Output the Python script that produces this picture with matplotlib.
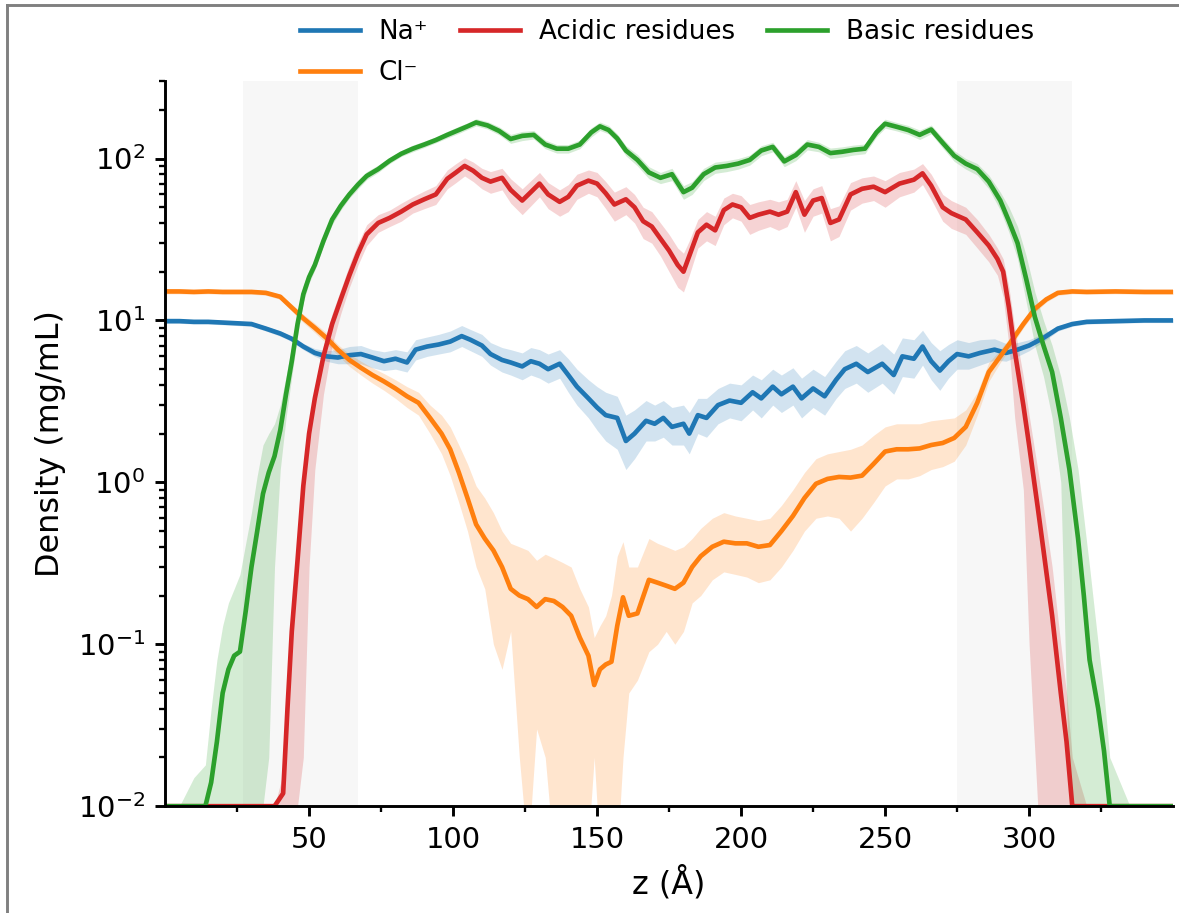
"""Density profiles along z for ions and charged residues."""
import numpy as np
from matplotlib import pyplot as plt

# Na+ profile (mg/mL) with band
z_na = [0, 5, 10, 15, 20, 25, 30, 35, 40,
        44, 48, 52, 56, 60, 64, 68, 72, 76, 80,
        84, 87, 91, 95, 99, 103, 106, 110, 113, 117,
        120, 124, 127, 130, 133, 137, 140, 143, 147, 150,
        153, 157, 160, 163, 167, 170, 173, 176, 180, 182,
        185, 188, 192, 196, 200, 204, 207, 211, 214, 218,
        221, 225, 229, 233, 236, 240, 244, 249, 253, 256,
        260, 263, 266, 269, 272, 275, 279, 283, 288, 292,
        296, 300, 305, 310, 315, 320, 330, 340, 350]
na = [9.9, 9.9, 9.8, 9.8, 9.7, 9.6, 9.5, 8.9, 8.3,
      7.7, 6.9, 6.3, 6.0, 5.9, 6.1, 6.2, 5.9, 5.6, 5.8,
      5.5, 6.6, 6.9, 7.1, 7.4, 8.0, 7.6, 7.0, 6.2, 5.7,
      5.5, 5.2, 5.6, 5.4, 5.0, 5.4, 4.6, 3.9, 3.3, 2.9,
      2.6, 2.5, 1.8, 2.0, 2.4, 2.3, 2.5, 2.2, 2.3, 2.0,
      2.6, 2.5, 3.0, 3.2, 3.1, 3.6, 3.3, 3.9, 3.5, 3.9,
      3.3, 3.8, 3.4, 4.3, 5.0, 5.4, 4.8, 5.4, 4.6, 6.0,
      5.8, 6.9, 5.6, 4.9, 5.6, 6.2, 6.0, 6.3, 6.6, 6.3,
      6.6, 7.0, 7.8, 8.9, 9.5, 9.8, 9.9, 10.0, 10.0]
na_lo = [9.6, 9.6, 9.5, 9.5, 9.4, 9.3, 9.2, 8.6, 8.0,
         7.4, 6.6, 6.0, 5.6, 5.4, 5.4, 5.4, 5.1, 4.9, 5.0,
         4.8, 5.7, 6.0, 6.2, 6.4, 6.9, 6.5, 6.0, 5.3, 4.8,
         4.6, 4.3, 4.6, 4.4, 4.1, 4.4, 3.6, 3.0, 2.5, 2.1,
         1.8, 1.6, 1.2, 1.4, 1.8, 1.8, 1.9, 1.7, 1.7, 1.5,
         2.0, 1.9, 2.3, 2.5, 2.4, 2.8, 2.5, 3.0, 2.7, 3.0,
         2.5, 2.9, 2.6, 3.3, 3.8, 4.1, 3.6, 4.1, 3.5, 4.5,
         4.4, 5.3, 4.3, 3.7, 4.4, 5.0, 5.0, 5.3, 5.7, 5.6,
         6.0, 6.5, 7.4, 8.6, 9.2, 9.5, 9.6, 9.7, 9.7]
na_hi = [10.2, 10.2, 10.1, 10.1, 10.0, 9.9, 9.8, 9.2, 8.6,
         8.0, 7.2, 6.7, 6.5, 6.6, 6.9, 7.0, 6.6, 6.4, 6.6,
         6.4, 7.6, 7.9, 8.2, 8.6, 9.3, 8.8, 8.2, 7.3, 6.8,
         6.6, 6.3, 6.8, 6.6, 6.2, 6.6, 5.8, 5.0, 4.3, 3.9,
         3.6, 3.4, 2.6, 2.8, 3.2, 3.0, 3.2, 2.9, 3.0, 2.7,
         3.3, 3.3, 3.8, 4.1, 4.0, 4.6, 4.3, 5.0, 4.6, 5.1,
         4.4, 5.0, 4.5, 5.6, 6.5, 7.0, 6.3, 7.2, 6.2, 7.8,
         7.6, 8.7, 7.3, 6.5, 7.1, 7.6, 7.3, 7.6, 7.7, 7.2,
         7.3, 7.6, 8.3, 9.3, 9.8, 10.1, 10.2, 10.3, 10.3]

# Cl- profile
z_cl = [0, 5, 10, 15, 20, 25, 30, 35, 40, 44,
        48, 52, 56, 60, 64, 68, 72, 76, 80, 84,
        88, 92, 96, 99, 102, 105, 108, 111, 114, 117,
        120, 123, 126, 129, 132, 135, 138, 141, 144, 147,
        149, 151, 153, 155, 157, 159, 161, 164, 168, 171,
        174, 177, 180, 183, 186, 190, 194, 198, 202, 206,
        210, 214, 218, 222, 226, 230, 234, 238, 242, 246,
        250, 254, 258, 262, 266, 270, 274, 278, 282, 286,
        290, 294, 298, 302, 306, 310, 315, 320, 330, 340,
        350]
cl = [15.1, 15.1, 15.0, 15.1, 15.0, 15.0, 15.0, 14.8, 14.0, 12.0,
      10.3, 9.0, 7.8, 6.6, 5.7, 5.1, 4.6, 4.2, 3.8, 3.4,
      3.1, 2.5, 2.0, 1.6, 1.15, 0.8, 0.55, 0.45, 0.38, 0.30,
      0.22, 0.20, 0.19, 0.17, 0.19, 0.185, 0.17, 0.15, 0.11, 0.085,
      0.056, 0.07, 0.075, 0.078, 0.13, 0.195, 0.15, 0.155, 0.25, 0.24,
      0.23, 0.22, 0.24, 0.30, 0.35, 0.40, 0.43, 0.42, 0.42, 0.40,
      0.41, 0.50, 0.62, 0.80, 0.98, 1.05, 1.08, 1.07, 1.10, 1.30,
      1.55, 1.60, 1.60, 1.62, 1.70, 1.75, 1.88, 2.2, 3.1, 4.8,
      6.0, 7.5, 9.5, 11.8, 13.5, 14.8, 15.1, 15.0, 15.1, 15.0,
      15.0]
cl_lo = [14.6, 14.6, 14.5, 14.6, 14.5, 14.5, 14.5, 14.3, 13.5, 11.4,
         9.7, 8.4, 7.2, 6.1, 5.2, 4.6, 4.1, 3.7, 3.3, 2.9,
         2.6, 2.0, 1.5, 1.1, 0.75, 0.5, 0.3, 0.22, 0.1, 0.07,
         0.12, 0.02, 0.005, 0.03, 0.02, 0.005, 0.005, 0.005, 0.005, 0.006,
         0.02, 0.005, 0.005, 0.005, 0.005, 0.02, 0.05, 0.06, 0.09, 0.1,
         0.12, 0.1, 0.12, 0.18, 0.2, 0.25, 0.28, 0.27, 0.26, 0.24,
         0.25, 0.3, 0.38, 0.5, 0.6, 0.62, 0.6, 0.5, 0.6, 0.75,
         0.95, 1.05, 1.05, 1.1, 1.2, 1.25, 1.35, 1.7, 2.6, 4.2,
         5.5, 7.0, 9.0, 11.2, 13.0, 14.3, 14.6, 14.5, 14.6, 14.5,
         14.5]
cl_hi = [15.6, 15.6, 15.5, 15.6, 15.5, 15.5, 15.5, 15.3, 14.5, 12.6,
         10.9, 9.6, 8.4, 7.1, 6.2, 5.6, 5.1, 4.7, 4.3, 3.9,
         3.6, 3.0, 2.6, 2.2, 1.7, 1.3, 0.95, 0.8, 0.65, 0.5,
         0.42, 0.4, 0.38, 0.33, 0.36, 0.34, 0.32, 0.3, 0.22, 0.17,
         0.11, 0.13, 0.15, 0.2, 0.35, 0.43, 0.3, 0.3, 0.45, 0.42,
         0.4, 0.38, 0.4, 0.45, 0.52, 0.6, 0.65, 0.62, 0.6, 0.58,
         0.6, 0.72, 0.9, 1.15, 1.4, 1.5, 1.55, 1.6, 1.7, 1.95,
         2.2, 2.3, 2.3, 2.3, 2.4, 2.45, 2.5, 2.8, 3.6, 5.5,
         6.6, 8.1, 10.1, 12.4, 14.0, 15.3, 15.6, 15.5, 15.6, 15.5,
         15.5]

# acidic residues
z_acid = [0, 10, 20, 30, 38, 41, 42.5, 44, 46, 48,
          50, 52, 55, 58, 61, 64, 67, 70, 74, 78,
          82, 86, 90, 94, 98, 101, 104, 107, 110, 113,
          117, 120, 124, 127, 130, 133, 137, 140, 143, 147,
          150, 153, 156, 160, 163, 166, 169, 172, 175, 178,
          180, 182, 185, 188, 191, 194, 197, 200, 203, 206,
          210, 213, 216, 219, 222, 225, 228, 231, 234, 238,
          242, 246, 250, 255, 260, 263, 266, 270, 273, 278,
          282, 286, 289, 291, 293, 295, 298, 300, 303, 305,
          308, 311, 313, 315, 320, 350]
acid = [0.01, 0.01, 0.01, 0.01, 0.01, 0.012, 0.04, 0.12, 0.33, 0.95,
        2.0, 3.3, 6.0, 9.5, 13.5, 19, 26, 34, 40, 43,
        47, 52, 56, 60, 75, 82, 90, 84, 76, 72,
        76, 64, 55, 62, 70, 60, 54, 58, 68, 73,
        70, 61, 52, 56, 50, 41, 38, 32, 27, 22,
        20, 25, 35, 39, 36, 48, 52, 50, 43, 45,
        47, 45, 47, 62, 45, 55, 57, 40, 42, 60,
        65, 67, 62, 70, 74, 81, 68, 50, 46, 42,
        35, 29, 24, 20, 12, 6.5, 3.0, 1.7, 0.7, 0.38,
        0.15, 0.05, 0.025, 0.01, 0.01, 0.01]
acid_lo = [0.01, 0.01, 0.01, 0.01, 0.01, 0.01, 0.01, 0.01, 0.01, 0.02,
           0.3, 1.2, 3.5, 7, 11, 16, 22, 29, 35, 38,
           41, 46, 49, 52, 65, 71, 78, 72, 65, 61,
           64, 53, 45, 51, 58, 49, 44, 47, 56, 61,
           58, 49, 41, 45, 40, 32, 30, 25, 20, 16,
           15, 19, 28, 31, 29, 39, 43, 41, 34, 36,
           38, 36, 38, 50, 35, 44, 46, 31, 33, 48,
           53, 55, 50, 58, 62, 69, 56, 41, 37, 34,
           28, 23, 19, 14, 7, 2.5, 0.9, 0.1, 0.01, 0.01,
           0.01, 0.01, 0.01, 0.01, 0.01, 0.01]
acid_hi = [0.01, 0.01, 0.01, 0.01, 0.01, 0.016, 0.06, 0.16, 0.42, 1.15,
           2.4, 3.9, 7.0, 11, 15.5, 22, 30, 39, 45, 48,
           53, 58, 63, 68, 85, 93, 101, 95, 87, 83,
           87, 75, 65, 73, 82, 71, 64, 69, 80, 85,
           82, 72, 62, 67, 60, 50, 47, 40, 34, 28,
           26, 31, 42, 47, 44, 57, 61, 59, 52, 54,
           56, 54, 56, 73, 55, 65, 68, 49, 51, 71,
           76, 78, 73, 82, 86, 93, 80, 60, 55, 50,
           42, 34, 28, 24, 16, 9, 4.5, 2.6, 1.2, 0.7,
           0.3, 0.1, 0.05, 0.02, 0.01, 0.01]

# basic residues
z_base = [0, 5, 10, 14, 16, 18, 20, 22, 24, 26,
          28, 30, 32, 34, 36, 38, 40, 42, 44, 46,
          48, 50, 52, 55, 58, 61, 64, 67, 70, 74,
          78, 82, 86, 90, 94, 98, 102, 105, 108, 112,
          116, 120, 124, 128, 132, 136, 140, 144, 148, 151,
          154, 157, 160, 164, 168, 172, 176, 180, 183, 187,
          191, 195, 199, 203, 207, 211, 215, 219, 223, 227,
          231, 235, 239, 243, 247, 250, 254, 258, 262, 266,
          270, 274, 278, 282, 286, 290, 293, 296, 299, 302,
          305, 308, 311, 314, 317, 319, 321, 324, 326, 328,
          335, 350]
base = [0.01, 0.01, 0.01, 0.01, 0.014, 0.025, 0.05, 0.07, 0.085, 0.09,
        0.16, 0.3, 0.5, 0.85, 1.15, 1.45, 2.1, 3.5, 5.6, 9.5,
        14.5, 18.5, 22, 31, 42, 51, 60, 69, 78, 86,
        97, 107, 115, 122, 130, 140, 150, 158, 167, 160,
        148, 132, 138, 140, 122, 115, 115, 122, 145, 158,
        150, 133, 112, 98, 82, 76, 80, 62, 66, 80,
        88, 90, 93, 98, 112, 118, 96, 105, 122, 118,
        108, 110, 113, 115, 145, 164, 157, 150, 140, 151,
        125, 104, 93, 86, 72, 55, 41, 30, 18, 10.5,
        7.0, 4.8, 2.5, 1.2, 0.45, 0.2, 0.08, 0.04, 0.022, 0.01,
        0.01, 0.01]
base_lo = [0.01, 0.01, 0.01, 0.01, 0.01, 0.01, 0.01, 0.01, 0.01, 0.01,
           0.01, 0.01, 0.01, 0.01, 0.02, 0.3, 1.2, 2.5, 4.5, 8.0,
           13, 17, 20.5, 29, 39, 48, 57, 65, 74, 82,
           93, 103, 110, 117, 125, 134, 143, 151, 159, 152,
           140, 124, 129, 132, 115, 108, 108, 115, 136, 149,
           142, 125, 104, 90, 75, 70, 73, 56, 60, 73,
           81, 83, 86, 91, 104, 110, 89, 97, 113, 110,
           100, 102, 105, 107, 136, 154, 148, 141, 131, 142,
           116, 96, 86, 79, 65, 48, 35, 24, 13, 7.0,
           4.5, 2.5, 1.0, 0.01, 0.01, 0.01, 0.01, 0.01, 0.01, 0.01,
           0.01, 0.01]
base_hi = [0.01, 0.01, 0.015, 0.018, 0.04, 0.08, 0.13, 0.18, 0.22, 0.27,
           0.42, 0.65, 1.1, 1.7, 2.0, 2.3, 3.0, 4.5, 7.0, 11,
           16.5, 20.5, 24, 34, 45, 55, 64, 74, 83, 91,
           102, 112, 121, 128, 136, 147, 158, 166, 176, 169,
           157, 141, 147, 149, 130, 122, 122, 130, 155, 168,
           160, 142, 120, 106, 89, 82, 87, 68, 72, 87,
           95, 97, 100, 105, 120, 126, 103, 113, 131, 126,
           116, 118, 121, 123, 155, 175, 167, 160, 150, 161,
           134, 112, 100, 93, 79, 62, 50, 38, 25, 15,
           10, 7, 4.5, 2.5, 1.2, 0.6, 0.3, 0.1, 0.05, 0.02,
           0.01, 0.01]

# interface regions
slabs = [(27, 67), (275, 315)]
x_ticks = [50, 100, 150, 200, 250, 300]
x_minor = [25, 75, 125, 175, 225, 275, 325]

series = [
    (z_na, na, na_lo, na_hi, "tab:blue", "Na⁺"),
    (z_cl, cl, cl_lo, cl_hi, "tab:orange", "Cl⁻"),
    (z_acid, acid, acid_lo, acid_hi, "tab:red", "Acidic residues"),
    (z_base, base, base_lo, base_hi, "tab:green", "Basic residues"),
]

plt.rcParams["axes.linewidth"] = 1.0
plt.rcParams["xtick.major.width"] = 1.0
plt.rcParams["ytick.major.width"] = 1.0
plt.rcParams["xtick.minor.width"] = 0.8
plt.rcParams["ytick.minor.width"] = 0.8

dpi = 209
fig = plt.figure(figsize=(1179 / dpi, 913 / dpi), dpi=dpi)
ax = fig.add_axes([0.140, 0.117, 0.855, 0.794])

for lo_z, hi_z in slabs:
    ax.axvspan(lo_z, hi_z, color="gray", alpha=0.06, lw=0, zorder=0)

for z, y, lo, hi, color, label in series:
    ax.fill_between(z, lo, hi, color=color, alpha=0.2, lw=0)
for z, y, lo, hi, color, label in series:
    ax.plot(z, y, color=color, lw=1.6, label=label)

ax.set_yscale("log")
ax.set_ylim(1e-2, 300)
ax.set_xlim(0, 350)
ax.set_xticks(x_ticks)
ax.set_xticks(x_minor, minor=True)
ax.tick_params(labelsize=10)
ax.set_xlabel("z (Å)", fontsize=11)
ax.set_ylabel("Density (mg/mL)", fontsize=11)
ax.spines["top"].set_visible(False)
ax.spines["right"].set_visible(False)

ax.legend(loc="center", bbox_to_anchor=(0.5655, 0.9425), bbox_transform=fig.transFigure,
          ncol=3, frameon=False, fontsize=9, handlelength=2.3, handletextpad=0.7,
          columnspacing=1.25, labelspacing=0.55)

# grey frame left over from the screenshot
fig.add_artist(plt.Line2D([0.006, 0.006], [0, 0.9945], color="#808080", lw=1.0))
fig.add_artist(plt.Line2D([0.006, 1.0], [0.9945, 0.9945], color="#808080", lw=1.0))

fig.savefig("out.png", dpi=dpi)
